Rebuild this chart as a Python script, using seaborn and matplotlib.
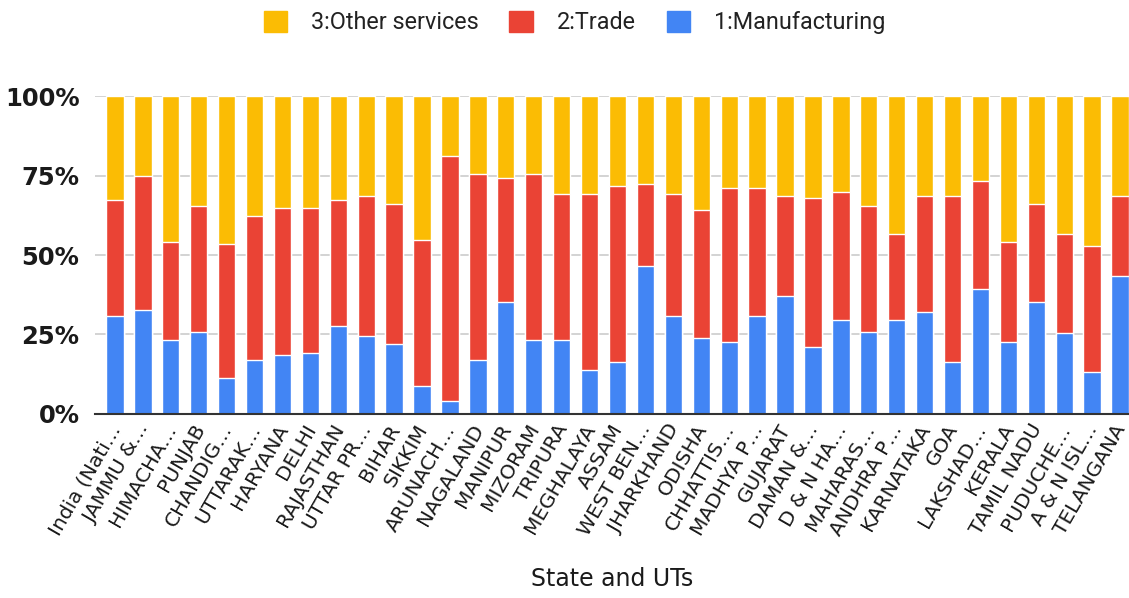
import matplotlib
matplotlib.use("Agg")
import matplotlib.pyplot as plt
import matplotlib.transforms as mtransforms
import seaborn as sns
import pandas as pd
import numpy as np
from matplotlib.patches import Patch

states = ["India (Nati…", "JAMMU &…", "HIMACHA…", "PUNJAB", "CHANDIG…", "UTTARAK…",
          "HARYANA", "DELHI", "RAJASTHAN", "UTTAR PR…", "BIHAR", "SIKKIM", "ARUNACH…",
          "NAGALAND", "MANIPUR", "MIZORAM", "TRIPURA", "MEGHALAYA", "ASSAM", "WEST BEN…",
          "JHARKHAND", "ODISHA", "CHHATTIS…", "MADHYA P…", "GUJARAT", "DAMAN &…",
          "D & N HA…", "MAHARAS…", "ANDHRA P…", "KARNATAKA", "GOA", "LAKSHAD…", "KERALA",
          "TAMIL NADU", "PUDUCHE…", "A & N ISL…", "TELANGANA"]

manufacturing = [30.9, 32.8, 23.3, 25.9, 11.4, 17.1, 18.4, 19.0, 27.7, 24.6, 22.1, 8.9, 3.9,
                 17.1, 35.3, 23.3, 23.3, 13.9, 16.4, 46.6, 30.9, 23.9, 22.7, 30.9, 37.2, 20.9,
                 29.7, 25.9, 29.7, 32.2, 16.4, 39.2, 22.7, 35.3, 25.3, 13.3, 43.5]
trade = [36.5, 42.0, 30.8, 39.6, 42.1, 45.3, 46.5, 45.9, 39.7, 44.1, 44.1, 45.8, 77.4,
         58.5, 39.0, 52.3, 46.0, 55.4, 55.4, 25.8, 38.4, 40.4, 48.5, 40.3, 31.5, 47.2,
         40.3, 39.7, 27.0, 36.4, 52.2, 34.0, 31.5, 30.9, 31.4, 39.6, 25.1]
other = [32.6, 25.2, 45.9, 34.5, 46.5, 37.6, 35.1, 35.1, 32.6, 31.3, 33.8, 45.3, 18.7,
         24.4, 25.7, 24.4, 30.7, 30.7, 28.2, 27.6, 30.7, 35.7, 28.8, 28.8, 31.3, 31.9,
         30.0, 34.4, 43.3, 31.4, 31.4, 26.8, 45.8, 33.8, 43.3, 47.1, 31.4]

series_names = ["3:Other services", "2:Trade", "1:Manufacturing"]
colors = ["#FBBC04", "#EA4335", "#4285F4"]

df = pd.DataFrame({"state": states, "m": manufacturing, "t": trade, "o": other})
df["c1"] = df["m"]
df["c2"] = df["m"] + df["t"]
df["c3"] = df["m"] + df["t"] + df["o"]
tot = df["c3"].copy()
for c in ["c1", "c2", "c3"]:
    df[c] = df[c] / tot * 100

sns.set_theme(style="white")
plt.rcParams['font.family'] = ['DejaVu Sans']

fig = plt.figure(figsize=(11.29, 5.98), dpi=100)
ax = fig.add_axes([0.084, 0.308, 0.916, 0.531])

for col, colr in zip(["c3", "c2", "c1"], colors):
    sns.barplot(data=df, x="state", y=col, color=colr, width=0.62, ax=ax,
                saturation=1, zorder=3, errorbar=None)

ax.set_ylim(0, 100)
ax.set_xlim(-0.72, len(states) - 1 + 0.32)
ax.set_yticks([0, 25, 50, 75, 100])
ax.set_yticklabels(["0%", "25%", "50%", "75%", "100%"], fontsize=17.5, fontweight="bold",
                   color="#1a1a1a")
ax.yaxis.grid(True, color="#cccccc", linewidth=1.2, zorder=0)
ax.set_axisbelow(True)
for s in ["top", "right", "left"]:
    ax.spines[s].set_visible(False)
ax.spines["bottom"].set_color("#333333")
ax.spines["bottom"].set_linewidth(1.5)
ax.spines["bottom"].set_zorder(5)
ax.tick_params(axis="both", length=0)
ax.tick_params(axis="y", pad=11)
ax.set_xticks(range(len(states)))
ax.set_xticklabels(states, rotation=60, ha="right", rotation_mode="anchor",
                   fontsize=14.5, color="#1a1a1a")
ax.tick_params(axis="x", pad=5)
offset = mtransforms.ScaledTranslation(-5 / 72, 0, fig.dpi_scale_trans)
for lab in ax.get_xticklabels():
    lab.set_transform(lab.get_transform() + offset)
ax.set_ylabel("")
ax.set_xlabel("State and UTs", fontsize=17, color="#1a1a1a", labelpad=20)

handles = [Patch(facecolor=c, edgecolor=c) for c in colors]
leg = fig.legend(handles, series_names, loc="center", bbox_to_anchor=(0.509, 0.962),
                 ncol=3, frameon=False, handlelength=1.0, handleheight=1.0,
                 handletextpad=1.05, columnspacing=1.3,
                 prop={"family": "Roboto", "size": 16.8})
for t in leg.get_texts():
    t.set_color("#222222")

fig.savefig("out.png", dpi=100)
